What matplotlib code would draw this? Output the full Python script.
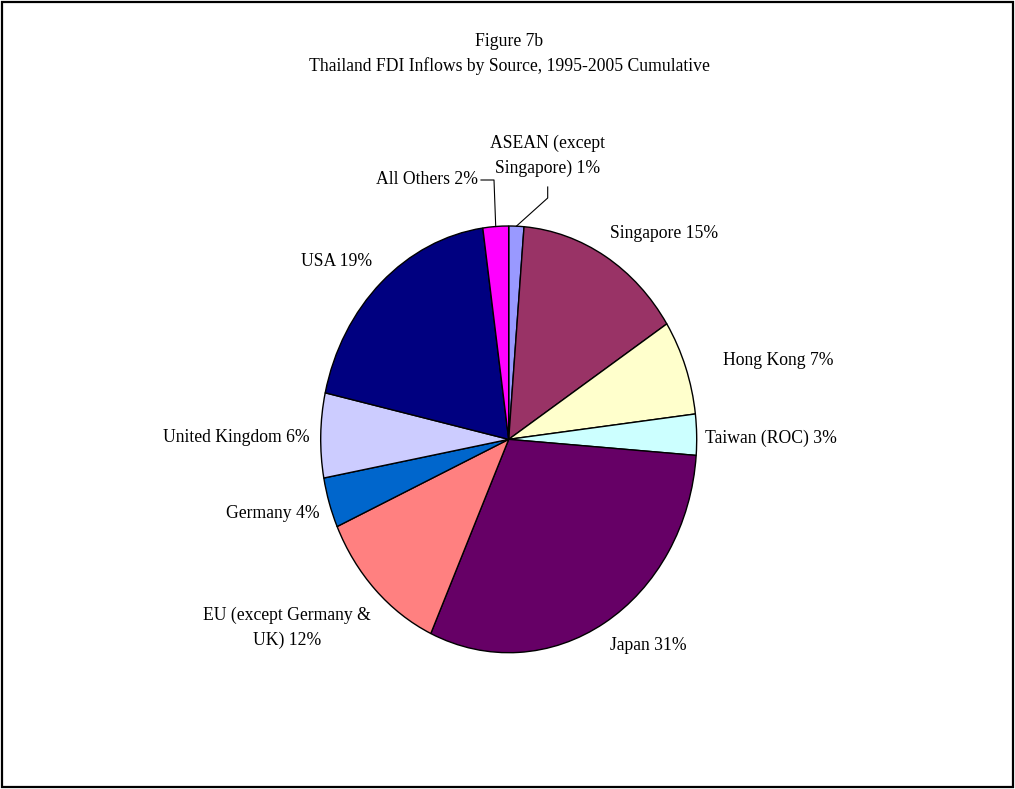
"""
Thailand FDI inflows by source, 1995-2005 cumulative (Figure 7b) as a pie chart.
Writes out.png next to the script.
"""

import matplotlib
matplotlib.use("Agg")
import numpy as np
import matplotlib.pyplot as plt
from matplotlib.patches import Rectangle
from matplotlib.lines import Line2D

# ----------------------------------------------------------------------
# Data (share of cumulative inflows, %), clockwise from 12 o'clock
# ----------------------------------------------------------------------
sources = ["ASEAN (except\nSingapore)", "Singapore", "Hong Kong", "Taiwan (ROC)",
           "Japan", "EU (except Germany &\nUK)", "Germany", "United Kingdom",
           "USA", "All Others"]
shares = [1.3, 14.6, 7.2, 3.1, 30.6, 11.5, 3.8, 6.4, 19.3, 2.2]
colors = ["#9999FF", "#993366", "#FFFFCC", "#CCFFFF", "#660066",
          "#FF8080", "#0066CC", "#CCCCFF", "#000080", "#FF00FF"]

W, H = 1015, 789
plt.rcParams["font.family"] = ["Liberation Serif", "DejaVu Serif"]
FS = 12.7


def fx(x):
    return x / W


def fy(y):
    return 1 - y / H


fig = plt.figure(figsize=(W / 100, H / 100), dpi=100)

# outer frame
fig.patches.append(Rectangle((fx(2), fy(787)), fx(1011), 785 / H,
                             transform=fig.transFigure, fill=False,
                             edgecolor="black", linewidth=1.6))

fig.text(fx(509), fy(41), "Figure 7b", ha="center", va="center", fontsize=FS)
fig.text(fx(509), fy(66), "Thailand FDI Inflows by Source, 1995-2005 Cumulative",
         ha="center", va="center", fontsize=FS)

# pie is drawn stretched vertically, like the original
ax = fig.add_axes([fx(320.7), fy(652.7), 376 / W, 426.7 / H])
wedges, _ = ax.pie(shares, colors=colors, startangle=90, counterclock=False,
                   wedgeprops=dict(edgecolor="black", linewidth=1.0))
ax.set_aspect("auto")
ax.set_xlim(-1, 1)
ax.set_ylim(-1, 1)
ax.axis("off")

# label placement (pixel position, horizontal alignment)
label_pos = [(548, 156, "center"), (610, 233, "left"), (723, 361, "left"),
             (705, 438, "left"), (610, 645, "left"), (287, 628, "center"),
             (320, 513, "right"), (310, 438, "right"), (372, 262, "right"),
             (478, 180, "right")]

for name, val, (x, y, ha) in zip(sources, shares, label_pos):
    fig.text(fx(x), fy(y), f"{name} {val:.0f}%", ha=ha, va="center",
             fontsize=FS, linespacing=1.58, multialignment="center")


def edge_point(w):
    mid = np.deg2rad((w.theta1 + w.theta2) / 2)
    disp = ax.transData.transform((np.cos(mid), np.sin(mid)))
    return fig.transFigure.inverted().transform(disp)


# leader lines for the two thin slices
leaders = {0: [(547.7, 187), (547.7, 198)], 9: [(481, 180), (494, 180)]}
for idx, pts in leaders.items():
    ex, ey = edge_point(wedges[idx])
    xs = [fx(p[0]) for p in pts] + [ex]
    ys = [fy(p[1]) for p in pts] + [ey]
    fig.lines.append(Line2D(xs, ys, transform=fig.transFigure,
                            color="black", linewidth=0.8))

fig.savefig("out.png", dpi=100)
